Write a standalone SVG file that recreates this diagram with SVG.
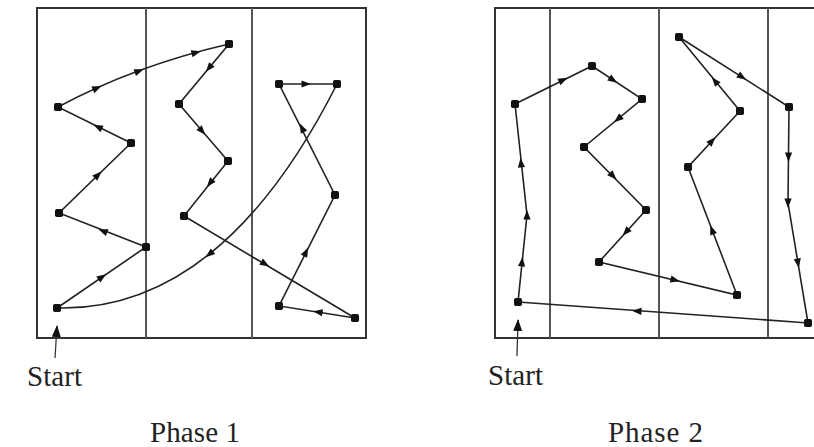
<svg xmlns="http://www.w3.org/2000/svg" xmlns:xlink="http://www.w3.org/1999/xlink" width="814" height="447" viewBox="0 0 814 447">
<defs>
<style>
.box{fill:none;stroke:#333;stroke-width:2}
.div{stroke:#555;stroke-width:2}
.edge{fill:none;stroke:#222;stroke-width:1.6}
.lbl{font-family:"Liberation Serif","Times New Roman",serif;font-size:29px;fill:#222}
.ptr{stroke:#333;stroke-width:1.3}
</style>
<rect id="dot" x="-4" y="-4" width="8" height="8" rx="1.8" fill="#111"/>
<path id="arr" d="M5,0 L-4.5,-3.6 L-4.5,3.6 Z" fill="#111"/>
<marker id="tip" markerWidth="12" markerHeight="9" refX="11" refY="4.5" orient="auto" markerUnits="userSpaceOnUse" viewBox="0 0 12 9">
<path d="M0,0 L12,4.5 L0,9 Z" fill="#111"/>
</marker>
</defs>
<rect width="814" height="447" fill="#fff"/>

<g id="frames">
<rect class="box" x="37" y="8" width="329" height="330"/>
<line class="div" x1="146" y1="8" x2="146" y2="338"/>
<line class="div" x1="252" y1="8" x2="252" y2="338"/>
<path class="box" d="M816,8 H495 V338 H816"/>
<line class="div" x1="550" y1="8" x2="550" y2="338"/>
<line class="div" x1="659" y1="8" x2="659" y2="338"/>
<line class="div" x1="768" y1="8" x2="768" y2="338"/>
</g>

<g id="connectors">
<path class="edge" d="M57,308 L146,247 L59,213 L131,143 L58,107 Q134,66 229,44 L179,104 L228,161 L184,216 L355,318 L279,306 L335,195 L279,84 L337,84 Q222,312 57,308"/>
<path class="edge" d="M518,302 L527,215 L515,104 L592,66 L642,99 L584,147 L646,210 L599,262 L737,295 L688,167 L740,111 L679,37 L789,107 L788,203 L808,323 L518,302"/>
<line class="ptr" x1="55" y1="358" x2="57" y2="326" marker-end="url(#tip)"/>
<line class="ptr" x1="517" y1="356" x2="518" y2="320" marker-end="url(#tip)"/>
<g id="arrows1">
<use href="#arr" transform="translate(102,277) rotate(-34.4)"/>
<use href="#arr" transform="translate(103,231) rotate(-158.7)"/>
<use href="#arr" transform="translate(98,175) rotate(-44.2)"/>
<use href="#arr" transform="translate(98,127) rotate(-153.7)"/>
<use href="#arr" transform="translate(97,88) rotate(-24.2)"/>
<use href="#arr" transform="translate(139,71) rotate(-20.2)"/>
<use href="#arr" transform="translate(196,52.5) rotate(-15.5)"/>
<use href="#arr" transform="translate(209,68) rotate(129.8)"/>
<use href="#arr" transform="translate(202,131) rotate(49.3)"/>
<use href="#arr" transform="translate(210,183) rotate(128.7)"/>
<use href="#arr" transform="translate(265,264) rotate(30.8)"/>
<use href="#arr" transform="translate(318,312) rotate(-171)"/>
<use href="#arr" transform="translate(306,252) rotate(-63.2)"/>
<use href="#arr" transform="translate(302,128) rotate(-116.8)"/>
<use href="#arr" transform="translate(306,84) rotate(0)"/>
<use href="#arr" transform="translate(209.5,254) rotate(141.3)"/>
</g>
<g id="arrows2">
<use href="#arr" transform="translate(522,262) rotate(-84.1)"/>
<use href="#arr" transform="translate(527,215) rotate(-90)"/>
<use href="#arr" transform="translate(521,163) rotate(-96.2)"/>
<use href="#arr" transform="translate(563,80) rotate(-26.3)"/>
<use href="#arr" transform="translate(613,80) rotate(33.4)"/>
<use href="#arr" transform="translate(618,119) rotate(140.4)"/>
<use href="#arr" transform="translate(613,176) rotate(45.5)"/>
<use href="#arr" transform="translate(626,232) rotate(132.1)"/>
<use href="#arr" transform="translate(675,280) rotate(13.4)"/>
<use href="#arr" transform="translate(712,230) rotate(-110.9)"/>
<use href="#arr" transform="translate(712,141) rotate(-47.1)"/>
<use href="#arr" transform="translate(715,81) rotate(-129.5)"/>
<use href="#arr" transform="translate(742,77) rotate(32.5)"/>
<use href="#arr" transform="translate(788.5,157) rotate(90.6)"/>
<use href="#arr" transform="translate(788,203) rotate(90)"/>
<use href="#arr" transform="translate(798,263) rotate(80.5)"/>
<use href="#arr" transform="translate(637,311) rotate(-175.9)"/>
</g>
</g>

<g id="p1-n1"><use href="#dot" x="57" y="308"/></g>
<g id="p1-n2"><use href="#dot" x="146" y="247"/></g>
<g id="p1-n3"><use href="#dot" x="59" y="213"/></g>
<g id="p1-n4"><use href="#dot" x="131" y="143"/></g>
<g id="p1-n5"><use href="#dot" x="58" y="107"/></g>
<g id="p1-n6"><use href="#dot" x="229" y="44"/></g>
<g id="p1-n7"><use href="#dot" x="179" y="104"/></g>
<g id="p1-n8"><use href="#dot" x="228" y="161"/></g>
<g id="p1-n9"><use href="#dot" x="184" y="216"/></g>
<g id="p1-n10"><use href="#dot" x="355" y="318"/></g>
<g id="p1-n11"><use href="#dot" x="279" y="306"/></g>
<g id="p1-n12"><use href="#dot" x="335" y="195"/></g>
<g id="p1-n13"><use href="#dot" x="279" y="84"/></g>
<g id="p1-n14"><use href="#dot" x="337" y="84"/></g>

<g id="p2-n1"><use href="#dot" x="518" y="302"/></g>
<g id="p2-n2"><use href="#dot" x="515" y="104"/></g>
<g id="p2-n3"><use href="#dot" x="592" y="66"/></g>
<g id="p2-n4"><use href="#dot" x="642" y="99"/></g>
<g id="p2-n5"><use href="#dot" x="584" y="147"/></g>
<g id="p2-n6"><use href="#dot" x="646" y="210"/></g>
<g id="p2-n7"><use href="#dot" x="599" y="262"/></g>
<g id="p2-n8"><use href="#dot" x="737" y="295"/></g>
<g id="p2-n9"><use href="#dot" x="688" y="167"/></g>
<g id="p2-n10"><use href="#dot" x="740" y="111"/></g>
<g id="p2-n11"><use href="#dot" x="679" y="37"/></g>
<g id="p2-n12"><use href="#dot" x="789" y="107"/></g>
<g id="p2-n13"><use href="#dot" x="808" y="323"/></g>

<g id="labels">
<text class="lbl" x="27" y="386" textLength="55">Start</text>
<text class="lbl" x="488" y="385" textLength="55">Start</text>
<text class="lbl" x="150" y="442" textLength="90">Phase 1</text>
<text class="lbl" x="608" y="442" textLength="95">Phase 2</text>
</g>
</svg>
